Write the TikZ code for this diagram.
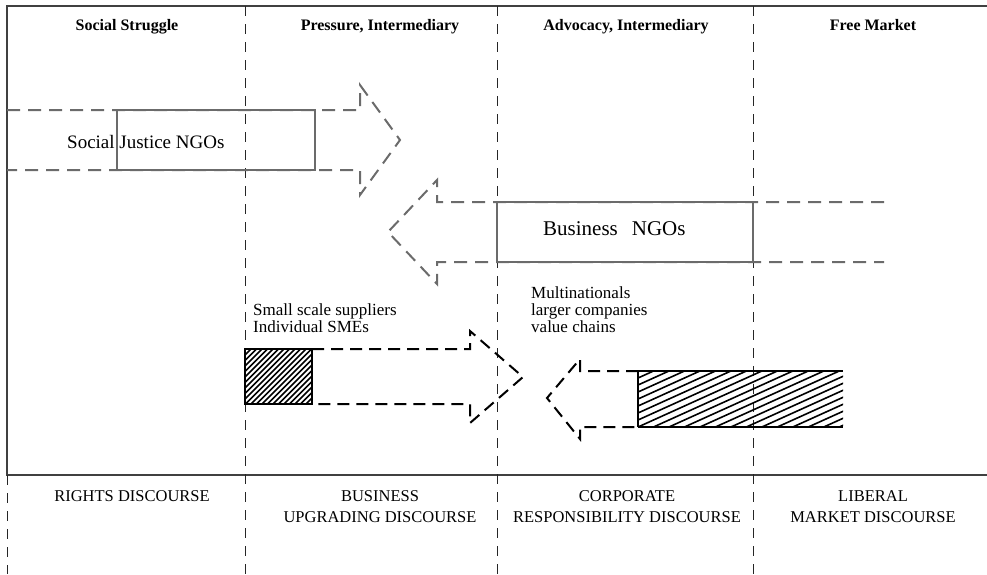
\documentclass[tikz,border=0pt]{standalone}
\usepackage{fontspec}
\setmainfont{Liberation Serif}
\begin{document}
\begin{tikzpicture}[x=1pt,y=-1pt,
  frameline/.style={line width=1.4pt, draw=black!75},
  divider/.style={line width=0.9pt, draw=black!85, dash pattern=on 10pt off 8pt},
  grayarrow/.style={line width=2pt, draw=black!58, dash pattern=on 13pt off 8pt, line join=miter},
  graybox/.style={line width=2pt, draw=black!58, minimum width=#1, minimum height=60pt, inner sep=0pt},
  blackarrow/.style={line width=2pt, draw=black, dash pattern=on 12pt off 7pt, line join=miter},
  hatchbox/.style={line width=2.5pt, draw=black},
  hatchline/.style={line width=1.6pt, draw=black},
  colhead/.style={font=\bfseries\fontsize{16}{18}\selectfont, anchor=base, inner sep=0pt},
  discourse/.style={font=\fontsize{16.5}{21}\selectfont, align=center, anchor=base, inner sep=0pt},
  actor/.style={font=\fontsize{17}{17}\selectfont, align=left, anchor=base west, inner sep=0pt},
  ngo/.style={font=\fontsize{#1}{#1}\selectfont, anchor=base west, inner sep=0pt},
]
\useasboundingbox (0,0) rectangle (987,574);

% frame and column dividers
\draw[frameline] (987,6) -- (7,6) -- (7,475) -- (987,475);
\draw[divider] (7,475) -- (7,574);
\foreach \xc in {245,497,753}
  \draw[divider] (\xc,6) -- (\xc,574);

% column headings
\node[colhead] (h1) at (127,30) {Social Struggle};
\node[colhead] (h2) at (380,30) {Pressure, Intermediary};
\node[colhead] (h3) at (626,30) {Advocacy, Intermediary};
\node[colhead] (h4) at (873,30) {Free Market};

% social justice NGOs: arrow to the right
\draw[grayarrow] (7,110) -- (360,110) -- (360,85) -- (400,140) -- (360,195) -- (360,170) -- (7,170);
\node[graybox=198pt] (sjbox) at (216,140) {};
\node[ngo=19] (sj) at (67,148) {Social Justice NGOs};

% business NGOs: arrow to the left
\draw[grayarrow] (884,202) -- (437,202) -- (437,180) -- (388,232) -- (437,284) -- (437,262) -- (884,262);
\node[graybox=256pt] (bnbox) at (625,232) {};
\node[ngo=21] (bn) at (543,235) {Business\hspace{14pt}NGOs};

% actor labels (anchored on the last line's baseline)
\node[actor] (sme) at (253,332) {Small scale suppliers\\Individual SMEs};
\node[actor] (mnc) at (531,332) {Multinationals\\larger companies\\value chains};

% small suppliers: arrow to the right
\draw[blackarrow] (312,349) -- (470,349) -- (470,331) -- (523,377) -- (470,423) -- (470,404) -- (312,404);
\begin{scope}
  \clip (245,349) rectangle (312,404);
  \foreach \k in {0,...,24}
    \draw[hatchline] ({245-60+\k*5.5},404) -- ++(62,-62);
\end{scope}
\node[hatchbox, minimum width=67pt, minimum height=55pt, inner sep=0pt] (smebox) at (278.5,376.5) {};

% multinationals: arrow to the left
\draw[blackarrow] (638,371) -- (580,371) -- (580,359) -- (547,398) -- (580,439) -- (580,427) -- (638,427);
\begin{scope}
  \clip (638,371) rectangle (843,427);
  \foreach \k in {0,...,22}
    \draw[hatchline] (638,{371+\k*7}) -- ++(230,-104);
\end{scope}
\draw[hatchbox] (638,427) -- (638,371) -- (843,371);
\draw[hatchbox] (638,427) -- (843,427);

% discourse labels (anchored on the last line's baseline)
\node[discourse] (d1) at (132,501) {RIGHTS DISCOURSE};
\node[discourse] (d2) at (380,522) {BUSINESS\\UPGRADING DISCOURSE};
\node[discourse] (d3) at (627,522) {CORPORATE\\RESPONSIBILITY DISCOURSE};
\node[discourse] (d4) at (873,522) {LIBERAL\\MARKET DISCOURSE};
\end{tikzpicture}
\end{document}
